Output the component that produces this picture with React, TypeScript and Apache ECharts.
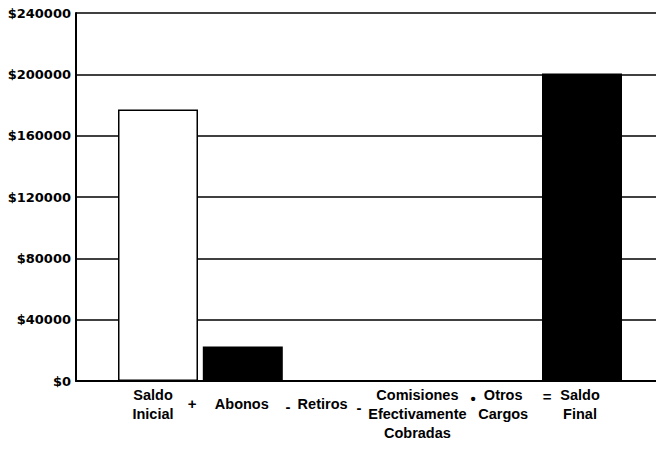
import React, { useEffect, useRef } from "react";
import * as echarts from "echarts";

const categories = [
  "Saldo\nInicial",
  "Abonos",
  "Retiros",
  "Comisiones\nEfectivamente\nCobradas",
  "Otros\nCargos",
  "Saldo\nFinal",
];
const values = [177000, 22500, 0, 0, 0, 200500];
const operators = ["+", "-", "-", "•", "="];
const yTicks = { min: 0, max: 240000, interval: 40000 };

export default function App() {
  const ref = useRef<HTMLDivElement>(null);
  useEffect(() => {
    if (!ref.current) return;
    const chart = echarts.init(ref.current, undefined, { renderer: "svg" });
    const opPos = [
      [192, 403],
      [288, 406],
      [359, 407],
      [473, 398],
      [547, 396],
    ];
    const labelStyle = {
      color: "#000",
      fontFamily: "'Liberation Sans', Arial, sans-serif",
      fontWeight: "bold",
      fontSize: 14.5,
      lineHeight: 19,
      verticalAlign: "top",
    };
    // horizontal nudges of labels (px) to match the reference placement
    const labelShift = [-5, -1, -5, 5, 6, -2];
    const axisData = categories.map((c, i) => {
      const s = labelShift[i];
      const top = c.indexOf("\n") < 0 ? 9 : 0;
      return {
        value: c,
        textStyle: {
          ...labelStyle,
          padding: s >= 0 ? [top, 0, 0, 2 * s] : [top, -2 * s, 0, 0],
        },
      };
    });
    chart.setOption({
      animation: false,
      backgroundColor: "#ffffff",
      grid: [
        { left: 76, right: 0, top: 13, bottom: 71, outerBoundsMode: "none", containLabel: false },
        { left: 115.6, right: 31.6, top: 13, bottom: 71, outerBoundsMode: "none", containLabel: false },
      ],
      xAxis: [
        {
          type: "value",
          gridIndex: 0,
          min: 0,
          max: 1,
          axisLine: { show: true, onZero: false, lineStyle: { color: "#000", width: 2 } },
          axisTick: { show: false },
          axisLabel: { show: false },
          splitLine: { show: false },
        },
        {
          type: "category",
          gridIndex: 1,
          data: axisData,
          axisLine: { show: false },
          axisTick: { show: false },
          axisLabel: {
            interval: 0,
            ...labelStyle,
            margin: 4,
          },
        },
      ],
      yAxis: [
        {
          type: "value",
          gridIndex: 0,
          min: yTicks.min,
          max: yTicks.max,
          interval: yTicks.interval,
          axisLine: { show: true, lineStyle: { color: "#000", width: 2 } },
          axisTick: { show: false },
          axisLabel: {
            color: "#000",
            fontFamily: "'DejaVu Sans', sans-serif",
            fontWeight: "bold",
            fontSize: 13,
            margin: 5,
            formatter: (v: number) => "$" + v,
          },
          splitLine: { show: true, lineStyle: { color: "#000", width: 1.5 } },
        },
        {
          type: "value",
          gridIndex: 1,
          min: yTicks.min,
          max: yTicks.max,
          interval: yTicks.interval,
          show: false,
        },
      ],
      series: [
        {
          type: "bar",
          xAxisIndex: 1,
          yAxisIndex: 1,
          barWidth: 80,
          data: values.map((v, i) =>
            i === 0
              ? { value: v, itemStyle: { color: "#fff", borderColor: "#000", borderWidth: 1.5 } }
              : { value: v, itemStyle: { color: "#000" } }
          ),
        },
      ],
      graphic: operators.map((op, i) => ({
        type: "text",
        x: opPos[i][0],
        y: opPos[i][1],
        style: {
          text: op,
          fill: "#000",
          font: "bold 15px 'Liberation Sans', sans-serif",
          align: "center",
          verticalAlign: "middle",
        },
      })),
    });
    return () => chart.dispose();
  }, []);
  return (
    <div
      ref={ref}
      style={{ position: "fixed", left: 0, top: 0, width: 656, height: 452 }}
    />
  );
}
